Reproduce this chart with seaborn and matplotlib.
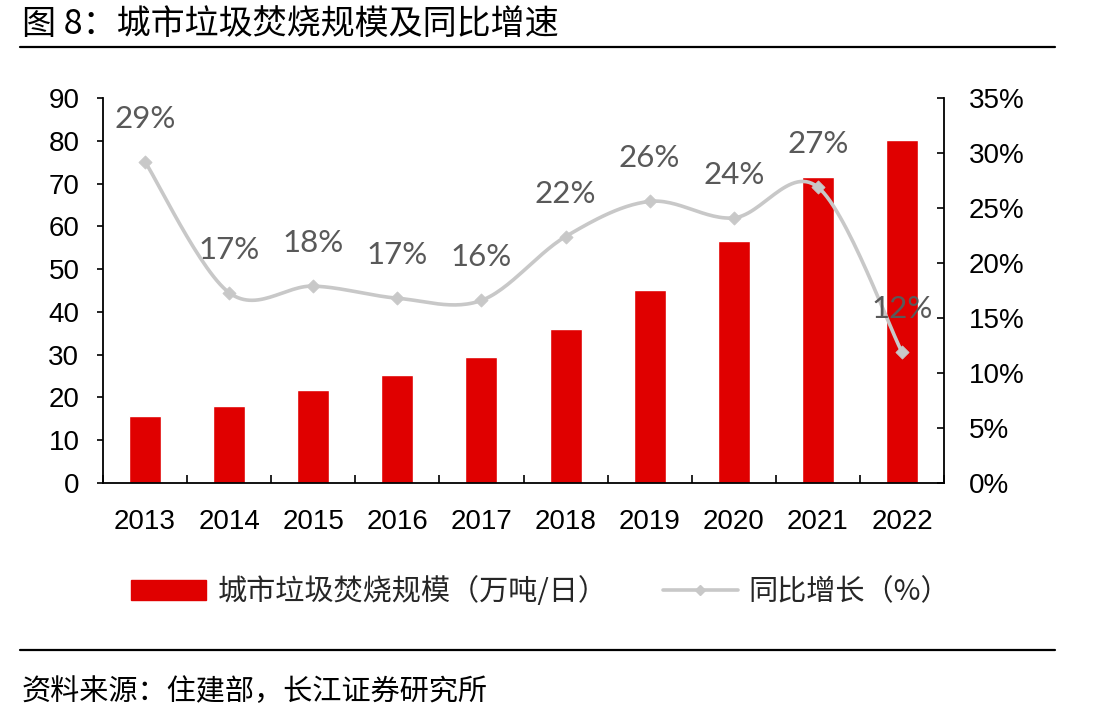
import numpy as np
import pandas as pd
import matplotlib
matplotlib.use("Agg")
import matplotlib.pyplot as plt
from matplotlib.patches import Patch
from matplotlib.lines import Line2D
import seaborn as sns

years = ["2013", "2014", "2015", "2016", "2017", "2018", "2019", "2020", "2021", "2022"]
capacity = [15.6, 18.0, 21.8, 25.2, 29.4, 35.9, 45.2, 56.6, 71.6, 80.2]
growth = [29.2, 17.3, 17.9, 16.8, 16.6, 22.4, 25.6, 24.1, 26.9, 11.9]
growth_labels = ["29%", "17%", "18%", "17%", "16%", "22%", "26%", "24%", "27%", "12%"]

bar_name = "城市垃圾焚烧规模（万吨/日）"
line_name = "同比增长（%）"

sns.set_theme(style="white")
plt.rcParams["font.family"] = ["Noto Sans CJK SC", "DejaVu Sans"]

df = pd.DataFrame({"year": years, "capacity": capacity, "growth": np.array(growth) / 100})

fig = plt.figure(figsize=(11.13, 7.22), dpi=100)
ax = fig.add_axes([103 / 1113, 1 - 483 / 722, (944 - 103) / 1113, (483 - 98) / 722])

RED = "#E00000"
GRAY = "#C8C8C8"

sns.barplot(data=df, x="year", y="capacity", color=RED, width=0.38, saturation=1, ax=ax)
ax.set_xlim(-0.5, len(years) - 0.5)
ax.set_ylim(0, 90)
ax.set_yticks(np.arange(0, 91, 10))
ax.set_xlabel("")
ax.set_ylabel("")

ax2 = ax.twinx()
# smooth curve (Catmull-Rom style, like Excel smoothed line) through the data points
xs = np.arange(len(years), dtype=float)
ys = df["growth"].values
P = np.column_stack([xs, ys])
curve = []
for i in range(len(P) - 1):
    p0 = P[i - 1] if i > 0 else P[i]
    p1 = P[i]
    p2 = P[i + 1]
    p3 = P[i + 2] if i + 2 < len(P) else P[i + 1]
    c1 = p1 + (p2 - p0) / 6
    c2 = p2 - (p3 - p1) / 6
    t = np.linspace(0, 1, 30)[:, None]
    seg = (1 - t) ** 3 * p1 + 3 * (1 - t) ** 2 * t * c1 + 3 * (1 - t) * t ** 2 * c2 + t ** 3 * p2
    curve.append(seg)
curve = np.vstack(curve)
ax2.plot(curve[:, 0], curve[:, 1], color=GRAY, lw=2.6, zorder=3)
sns.scatterplot(x=xs, y=ys, marker="D", s=45, color=GRAY, edgecolor=GRAY, ax=ax2, zorder=4, legend=False)
ax2.set_ylim(0, 0.35)
ax2.set_yticks(np.arange(0, 0.351, 0.05))
ax2.set_yticklabels([f"{int(round(v * 100))}%" for v in np.arange(0, 0.351, 0.05)])
ax2.set_xlim(-0.5, len(years) - 0.5)

for x, y, lab in zip(xs, ys, growth_labels):
    ax2.annotate(lab, (x, y), xytext=(0, 31), textcoords="offset points", ha="center", va="center",
                 fontsize=22.5, color="#595959", family=["Lato", "DejaVu Sans"], zorder=5)

# spines and ticks
for a in (ax, ax2):
    for s in a.spines.values():
        s.set_visible(False)
ax.spines["left"].set_visible(True)
ax.spines["bottom"].set_visible(True)
ax2.spines["right"].set_visible(True)
for s in (ax.spines["left"], ax.spines["bottom"], ax2.spines["right"]):
    s.set_color("black")
    s.set_linewidth(1.3)

ax.tick_params(axis="y", left=True, direction="out", length=4, width=1.2, colors="black",
               labelsize=20, pad=13)
ax.set_xticks(xs)
ax.set_xticklabels(years)
ax.set_xticks(np.arange(-0.5, len(years), 1), minor=True)
ax.tick_params(axis="x", which="major", bottom=False, labelsize=20, pad=13, labelcolor="black")
ax.tick_params(axis="x", which="minor", bottom=True, direction="in", length=6, width=1.2, color="black")
ax2.tick_params(axis="y", right=True, direction="in", length=5, width=1.2, colors="black",
                labelsize=20, pad=18)
for lab in ax.get_yticklabels() + ax.get_xticklabels() + ax2.get_yticklabels():
    lab.set_family(["Liberation Sans", "DejaVu Sans"])

# legend
handles = [Patch(facecolor=RED, edgecolor=RED),
           Line2D([0], [0], color=GRAY, lw=2.6, marker="D", markersize=5)]
fig.legend(handles, [bar_name, line_name], loc="center", bbox_to_anchor=(0.486, 0.180), ncol=2,
           frameon=False, fontsize=21, handlelength=2.57, handleheight=0.7, columnspacing=1.9,
           handletextpad=0.38)

# title, rules, source
fig.text(22 / 1113, 1 - 24 / 722, "图 8：城市垃圾焚烧规模及同比增速", fontsize=24.5, va="center", ha="left",
         color="black")
fig.add_artist(Line2D([20 / 1113, 1055 / 1113], [1 - 47 / 722] * 2, color="black", lw=1.6))
fig.add_artist(Line2D([20 / 1113, 1055 / 1113], [1 - 650 / 722] * 2, color="black", lw=1.6))
fig.text(22 / 1113, 1 - 692 / 722, "资料来源：住建部，长江证券研究所", fontsize=21, va="center", ha="left",
         color="black")

fig.savefig("out.png", dpi=100, facecolor="white")
